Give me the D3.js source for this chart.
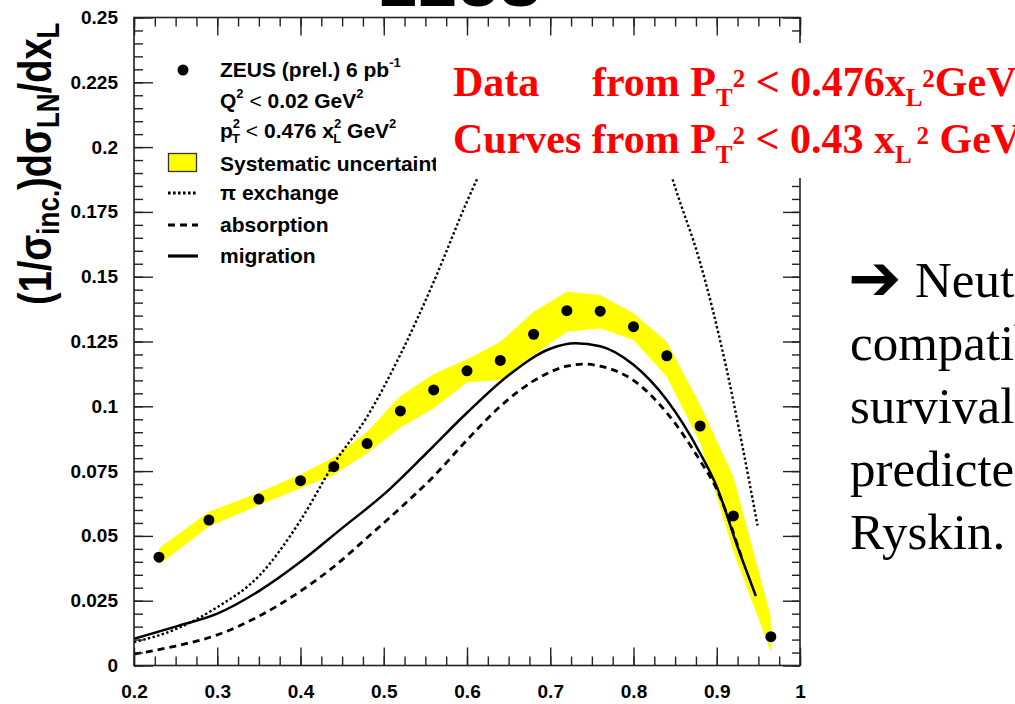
<!DOCTYPE html>
<html>
<head>
<meta charset="utf-8">
<script src="https://cdn.jsdelivr.net/npm/d3@7"></script>
<style>
  html, body { margin: 0; padding: 0; background: #fff; overflow: hidden; }
  svg { display: block; }
</style>
</head>
<body>
<svg id="chart" width="1015" height="704"></svg>
<script>
// ZEUS leading-neutron x_L spectrum, photoproduction
const dataX     = [0.23, 0.29, 0.35, 0.40, 0.44, 0.48, 0.52, 0.56, 0.60, 0.64, 0.68, 0.72, 0.76, 0.80, 0.84, 0.88, 0.92, 0.965];
const dataY     = [0.0418, 0.0561, 0.0642, 0.0713, 0.0767, 0.0856, 0.0982, 0.1063, 0.1137, 0.1177, 0.1278, 0.1369, 0.1367, 0.1307, 0.1195, 0.0924, 0.0577, 0.0111];
const sysUpper  = [0.0452, 0.0593, 0.0667, 0.0738, 0.0803, 0.0902, 0.1040, 0.1125, 0.1182, 0.1249, 0.1365, 0.1442, 0.1429, 0.1359, 0.1249, 0.1005, 0.0728, 0.0188];
const sysLower  = [0.0390, 0.0536, 0.0619, 0.0684, 0.0735, 0.0819, 0.0918, 0.0992, 0.1093, 0.1101, 0.1198, 0.1288, 0.1301, 0.1256, 0.1114, 0.0860, 0.0440, 0.0053];

// pi exchange (shown in two visible pieces)
const piLowX    = [0.20, 0.25, 0.30, 0.35, 0.40, 0.44, 0.48, 0.52, 0.56, 0.60, 0.63];
const piLowY    = [0.0090, 0.0140, 0.0225, 0.0345, 0.0560, 0.0778, 0.0960, 0.1200, 0.1480, 0.1790, 0.2000];
const piHighX   = [0.835, 0.85, 0.88, 0.91, 0.93, 0.949];
const piHighY   = [0.2000, 0.1845, 0.1555, 0.1170, 0.0860, 0.0540];

// absorption
const absX      = [0.20, 0.25, 0.30, 0.35, 0.40, 0.44, 0.48, 0.52, 0.56, 0.60, 0.64, 0.68, 0.72, 0.74, 0.76, 0.80, 0.84, 0.88, 0.90, 0.93];
const absY      = [0.0044, 0.0075, 0.0118, 0.0190, 0.0287, 0.0381, 0.0493, 0.0608, 0.0730, 0.0870, 0.1000, 0.1098, 0.1155, 0.1163, 0.1155, 0.1100, 0.0975, 0.0790, 0.0680, 0.0415];

// migration
const migX      = [0.20, 0.25, 0.30, 0.35, 0.40, 0.45, 0.50, 0.55, 0.60, 0.65, 0.70, 0.73, 0.76, 0.80, 0.84, 0.88, 0.90, 0.925, 0.947];
const migY      = [0.0103, 0.0150, 0.0200, 0.0287, 0.0400, 0.0530, 0.0660, 0.0815, 0.0975, 0.1120, 0.1222, 0.1243, 0.1232, 0.1160, 0.1024, 0.0819, 0.0690, 0.0458, 0.0268];

const xTicks      = [0.2, 0.3, 0.4, 0.5, 0.6, 0.7, 0.8, 0.9, 1.0];
const xTickLabels = ["0.2", "0.3", "0.4", "0.5", "0.6", "0.7", "0.8", "0.9", "1"];
const yTicks      = [0, 0.025, 0.05, 0.075, 0.1, 0.125, 0.15, 0.175, 0.2, 0.225, 0.25];
const yTickLabels = ["0", "0.025", "0.05", "0.075", "0.1", "0.125", "0.15", "0.175", "0.2", "0.225", "0.25"];

const svg = d3.select("#chart");
const L = 134, R = 800, T = 17.5, B = 665.5;
const x = d3.scaleLinear().domain([0.2, 1]).range([L, R]);
const y = d3.scaleLinear().domain([0, 0.25]).range([B, T]);

const sans = "'Liberation Sans', Arial, Helvetica, sans-serif";
const serif = "'Liberation Serif', 'Times New Roman', serif";

// title peeking above the frame
svg.append("text").attr("x", 460).attr("y", 6).attr("text-anchor", "middle")
  .attr("font-family", sans).attr("font-weight", 700).attr("font-size", 60)
  .attr("fill", "#000").text("ZEUS");

const plot = svg.append("g");
plot.append("clipPath").attr("id", "frameClip").append("rect")
  .attr("x", L).attr("y", T).attr("width", R - L).attr("height", B - T);
const inner = plot.append("g").attr("clip-path", "url(#frameClip)");

// systematic band
const bandPts = dataX.map((d, i) => ({ x: d, lo: sysLower[i], hi: sysUpper[i] }));
inner.append("path").datum(bandPts)
  .attr("d", d3.area().x(d => x(d.x)).y0(d => y(d.lo)).y1(d => y(d.hi)))
  .attr("fill", "#ffff00").attr("stroke", "none");

// model curves
const lineGen = d3.line().x(d => x(d[0])).y(d => y(d[1])).curve(d3.curveMonotoneX);
function curve(xs, ys, dash, w) {
  inner.append("path").datum(xs.map((v, i) => [v, ys[i]]))
    .attr("d", lineGen).attr("fill", "none").attr("stroke", "#000")
    .attr("stroke-width", w).attr("stroke-dasharray", dash);
}
curve(piLowX, piLowY, "2.4 2.4", 2.4);
curve(piHighX, piHighY, "2.4 2.4", 2.4);
curve(absX, absY, "7 5", 2.8);
curve(migX, migY, null, 2.5);

// data points
inner.selectAll("circle.pt").data(dataX).join("circle").attr("class", "pt")
  .attr("cx", d => x(d)).attr("cy", (d, i) => y(dataY[i])).attr("r", 5.5).attr("fill", "#000");

// axes: inward ticks on all four sides
const axisCol = "#222";
function styleAxis(g) {
  g.select(".domain").remove();
  g.selectAll(".tick line").attr("stroke", axisCol).attr("stroke-width", 1.4);
  g.selectAll(".tick text").attr("font-family", sans).attr("font-weight", 700)
    .attr("font-size", 19).attr("fill", "#000");
}
const xMinor = d3.range(0.2, 1.0001, 0.025);
const yMinor = d3.range(0, 0.25001, 0.005);

svg.append("g").attr("transform", `translate(0,${B})`)
  .call(d3.axisBottom(x).tickValues(xMinor).tickSize(-9).tickFormat("")).call(styleAxis);
svg.append("g").attr("transform", `translate(0,${B})`)
  .call(d3.axisBottom(x).tickValues(xTicks).tickSize(-18).tickPadding(19)
    .tickFormat((d, i) => xTickLabels[i])).call(styleAxis);
svg.append("g").attr("transform", `translate(0,${T})`)
  .call(d3.axisTop(x).tickValues(xMinor).tickSize(-9).tickFormat("")).call(styleAxis);
svg.append("g").attr("transform", `translate(0,${T})`)
  .call(d3.axisTop(x).tickValues(xTicks).tickSize(-18).tickFormat("")).call(styleAxis);

svg.append("g").attr("transform", `translate(${L},0)`)
  .call(d3.axisLeft(y).tickValues(yMinor).tickSize(-9).tickFormat("")).call(styleAxis);
svg.append("g").attr("transform", `translate(${L},0)`)
  .call(d3.axisLeft(y).tickValues(yTicks).tickSize(-19).tickPadding(16)
    .tickFormat((d, i) => yTickLabels[i])).call(styleAxis);
svg.append("g").attr("transform", `translate(${R},0)`)
  .call(d3.axisRight(y).tickValues(yMinor).tickSize(-8).tickFormat("")).call(styleAxis);
svg.append("g").attr("transform", `translate(${R},0)`)
  .call(d3.axisRight(y).tickValues(yTicks).tickSize(-17).tickFormat("")).call(styleAxis);

svg.append("rect").attr("x", L).attr("y", T).attr("width", R - L).attr("height", B - T)
  .attr("fill", "none").attr("stroke", axisCol).attr("stroke-width", 1.6);

// y-axis title
const yt = svg.append("text").attr("transform", "translate(51,305) rotate(-90) scale(1,1.2)")
  .attr("font-family", sans).attr("font-weight", 700).attr("font-size", 38).attr("fill", "#000");
yt.append("tspan").text("(1/σ");
yt.append("tspan").attr("font-size", 26).attr("dy", 7).text("inc.");
yt.append("tspan").attr("dy", -7).text(")dσ");
yt.append("tspan").attr("font-size", 26).attr("dy", 7).text("LN");
yt.append("tspan").attr("dy", -7).text("/dx");
yt.append("tspan").attr("font-size", 26).attr("dy", 7).text("L");

// legend
const lg = svg.append("g").attr("font-family", sans).attr("font-weight", 700).attr("font-size", 21).attr("fill", "#000");
const lx = 220;
lg.append("circle").attr("cx", 183).attr("cy", 70).attr("r", 5.5).attr("fill", "#000");
let t = lg.append("text").attr("x", lx).attr("y", 77);
t.append("tspan").text("ZEUS (prel.) 6 pb");
t.append("tspan").attr("font-size", 13).attr("dy", -10).text("-1");

t = lg.append("text").attr("x", lx).attr("y", 108);
t.append("tspan").text("Q");
t.append("tspan").attr("font-size", 13).attr("dy", -10).text("2");
t.append("tspan").attr("dy", 10).attr("font-weight", 400).text(" < ");
t.append("tspan").text("0.02 GeV");
t.append("tspan").attr("font-size", 13).attr("dy", -10).text("2");

t = lg.append("text").attr("x", lx).attr("y", 138);
t.append("tspan").text("p");
t.append("tspan").attr("font-size", 13).attr("dy", -10).text("2");
t.append("tspan").attr("font-size", 13).attr("dx", -8).attr("dy", 15).text("T");
t.append("tspan").attr("dy", -5).attr("font-weight", 400).text(" < ");
t.append("tspan").text("0.476 x");
t.append("tspan").attr("font-size", 13).attr("dy", -10).text("2");
t.append("tspan").attr("font-size", 13).attr("dx", -8).attr("dy", 15).text("L");
t.append("tspan").attr("dy", -5).text(" GeV");
t.append("tspan").attr("font-size", 13).attr("dy", -10).text("2");

lg.append("rect").attr("x", 168.5).attr("y", 153.5).attr("width", 28).attr("height", 18)
  .attr("fill", "#ffff00").attr("stroke", "#333").attr("stroke-width", 1.3);
lg.append("text").attr("x", lx).attr("y", 171).text("Systematic uncertainty");

const legLines = [
  { label: "π exchange", yy: 193, dash: "2.6 2.4", w: 3 },
  { label: "absorption", yy: 225, dash: "7 5", w: 3.2 },
  { label: "migration",  yy: 256, dash: null, w: 3.2 }
];
legLines.forEach(s => {
  lg.append("line").attr("x1", 168).attr("x2", 198).attr("y1", s.yy).attr("y2", s.yy)
    .attr("stroke", "#000").attr("stroke-width", s.w).attr("stroke-dasharray", s.dash);
  lg.append("text").attr("x", lx).attr("y", s.yy + 7).text(s.label);
});

// annotation box with the kinematic cuts
svg.append("rect").attr("x", 436).attr("y", 43).attr("width", 579).attr("height", 135).attr("fill", "#fff");
const red = svg.append("g").attr("font-family", serif).attr("font-weight", 700).attr("font-size", 42).attr("fill", "#ff0000");
red.append("text").attr("x", 453).attr("y", 96).text("Data");
function cutText(xx, yy, pre, val, gap) {
  const tx = red.append("text").attr("x", xx).attr("y", yy);
  tx.append("tspan").text(pre + "P");
  tx.append("tspan").attr("font-size", 25).attr("dy", 10).text("T");
  tx.append("tspan").attr("font-size", 25).attr("dy", -19).text("2");
  tx.append("tspan").attr("dy", 9).text(" <  " + val + gap + "x");
  tx.append("tspan").attr("font-size", 25).attr("dy", 10).text("L");
  tx.append("tspan").attr("font-size", 25).attr("dy", -19).text(gap + "2");
  tx.append("tspan").attr("dy", 9).text(gap + "GeV");
  tx.append("tspan").attr("font-size", 25).attr("dy", -19).text("2");
}
cutText(592, 96, "from ", "0.476", "");
cutText(453, 153, "Curves from ", "0.43", " ");

// side remark
const side = svg.append("g").attr("font-family", serif).attr("font-size", 51).attr("fill", "#000");
const sideLines = ["Neutron data are", "compatible with the", "survival probability", "predicted by Khoze, Martin,", "Ryskin."];
side.append("text").attr("x", 848).attr("y", 300).attr("font-family", "'DejaVu Sans', sans-serif")
  .attr("font-weight", 700).attr("font-size", 64).text("➔");
sideLines.forEach((s, i) => {
  side.append("text").attr("x", i === 0 ? 915 : 850).attr("y", 297 + i * 63).text(s);
});
</script>
</body>
</html>
